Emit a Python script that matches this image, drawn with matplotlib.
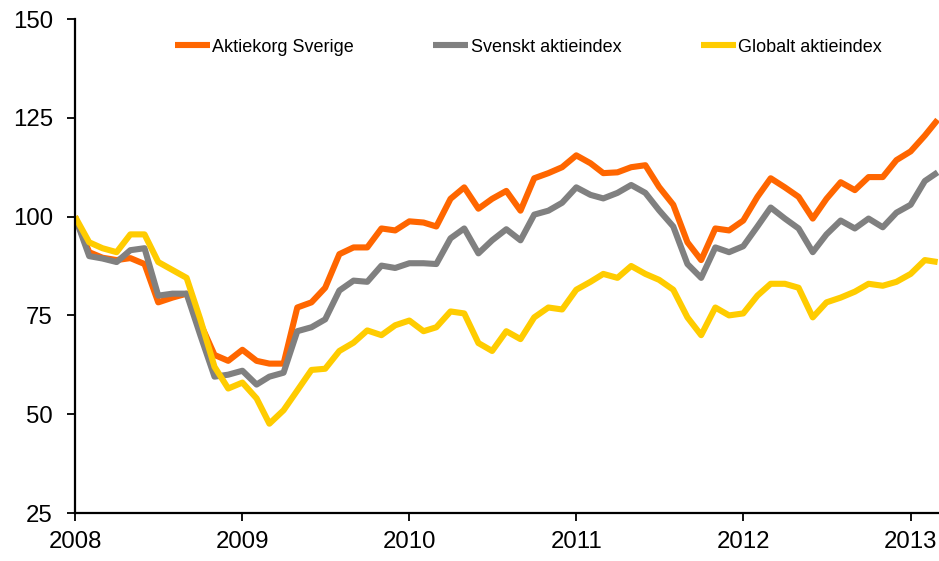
import matplotlib
matplotlib.use("Agg")
import matplotlib.pyplot as plt
import matplotlib.dates as mdates
import pandas as pd

plt.rcParams['font.family'] = ['Liberation Sans', 'DejaVu Sans']

dates = pd.date_range("2008-01-01", periods=63, freq="MS")

aktiekorg = [100, 91, 89.6, 89, 89.5, 88, 78.3, 79.5, 80.5, 73, 65, 63.5,
             66.3, 63.5, 62.8, 62.8, 77, 78.3, 82, 90.5, 92.2, 92.2, 97, 96.5,
             98.8, 98.5, 97.5, 104.5, 107.4, 102, 104.5, 106.5, 101.5, 109.7, 111, 112.5,
             115.5, 113.5, 111, 111.2, 112.5, 113, 107.5, 103, 93.5, 89, 97, 96.5,
             99, 105, 109.7, 107.4, 105, 99.5, 104.5, 108.7, 106.7, 110, 110, 114.3,
             116.5, 120.5, 124.5]

svenskt = [100, 90, 89.4, 88.5, 91.5, 92, 80, 80.5, 80.5, 70, 59.5, 60,
           61, 57.5, 59.5, 60.5, 71, 72, 74, 81.3, 83.8, 83.5, 87.6, 87,
           88.2, 88.2, 88, 94.5, 97, 90.7, 94, 96.8, 94, 100.5, 101.5, 103.5,
           107.4, 105.5, 104.6, 106, 108, 106, 101.6, 97.5, 88, 84.5, 92.2, 91,
           92.5, 97.5, 102.3, 99.5, 97, 91, 95.5, 99, 97, 99.5, 97.3, 101,
           103, 109, 111.2]

globalt = [100, 93.5, 92, 91, 95.5, 95.5, 88.5, 86.5, 84.5, 74, 62, 56.5,
           58, 54, 47.6, 51, 56, 61.2, 61.5, 66, 68.1, 71.2, 70, 72.5,
           73.7, 71, 72, 76, 75.5, 68, 66, 71, 69, 74.5, 77, 76.5,
           81.5, 83.5, 85.5, 84.5, 87.5, 85.5, 84, 81.5, 74.5, 70, 77, 75,
           75.5, 80, 83, 83, 82, 74.5, 78.3, 79.5, 81, 83, 82.5, 83.5,
           85.5, 89, 88.5]

series_names = ["Aktiekorg Sverige", "Svenskt aktieindex", "Globalt aktieindex"]
series_colors = ["#FF6600", "#808080", "#FFCC00"]
y_ticks = [25, 50, 75, 100, 125, 150]

fig = plt.figure(figsize=(9.39, 5.61), dpi=100)
ax = fig.add_axes([75/939, 48/561, 864/939, 494/561])

for vals, name, col in zip([aktiekorg, svenskt, globalt], series_names, series_colors):
    ax.plot(dates, vals, color=col, lw=4.4, label=name,
            solid_joinstyle='round', solid_capstyle='butt')

ax.set_ylim(25, 150)
ax.set_yticks(y_ticks)
ax.set_xlim(pd.Timestamp("2008-01-01"), pd.Timestamp("2013-03-04"))
ax.xaxis.set_major_locator(mdates.YearLocator())
ax.xaxis.set_major_formatter(mdates.DateFormatter("%Y"))

for s in ["top", "right"]:
    ax.spines[s].set_visible(False)
for s in ["left", "bottom"]:
    ax.spines[s].set_linewidth(1.6)
    ax.spines[s].set_color("black")

ax.tick_params(axis='both', direction='out', length=6, width=1.3,
               labelsize=17.3, colors='black')
ax.tick_params(axis='y', pad=10)
ax.tick_params(axis='x', pad=7)

fig.legend(loc='center left', bbox_to_anchor=(175/939, 1 - 47/561),
           ncol=3, frameon=False, fontsize=13, handlelength=1.94,
           handletextpad=0.12, columnspacing=4.4, borderpad=0,
           borderaxespad=0)

fig.savefig("out.png", dpi=100)
